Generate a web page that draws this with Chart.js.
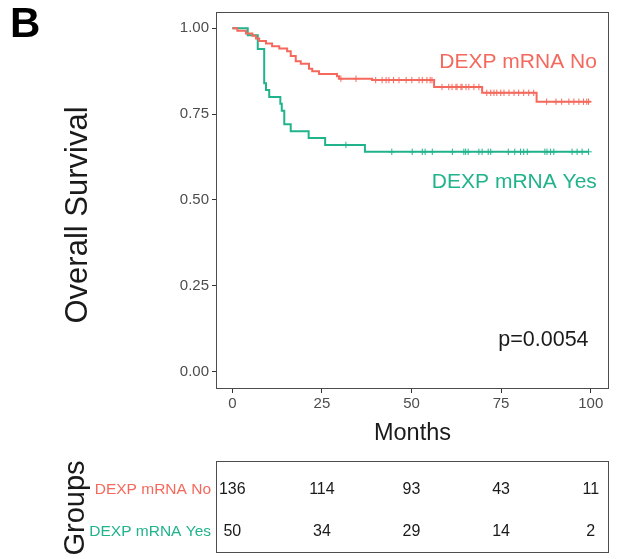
<!DOCTYPE html>
<html>
<head>
<meta charset="utf-8">
<script src="https://cdn.jsdelivr.net/npm/chart.js@4.4.1/dist/chart.umd.min.js"></script>
<style>
  html, body { margin: 0; padding: 0; background: #fff; }
  #wrap { position: relative; width: 620px; height: 559px; }
  #survChart { position: absolute; left: 0; top: 0; }
  #riskChart { position: absolute; left: 0; top: 445px; }
</style>
</head>
<body>
<div id="wrap">
  <canvas id="survChart" width="620" height="445"></canvas>
  <canvas id="riskChart" width="620" height="114"></canvas>
</div>
<script>
const FONT = "'Liberation Sans', Arial, Helvetica, sans-serif";

const groups = ['DEXP mRNA No', 'DEXP mRNA Yes'];
const groupColors = ['#F5695D', '#21B38C'];

// Kaplan-Meier steps: time of each drop and survival after it
const noTimes = [0, 1.4, 3.8, 5.6, 6.6, 7.5, 9.4, 11.1, 13.1, 15.3, 16.3, 17.7, 19.1, 21.4, 22.3, 24.2, 29.2, 29.8, 39.0, 56.3, 69.7, 84.9, 100];
const noSurv = [1.0, 0.993, 0.985, 0.978, 0.970, 0.963, 0.956, 0.948, 0.941, 0.933, 0.919, 0.904, 0.897, 0.882, 0.875, 0.867, 0.860, 0.853, 0.849, 0.829, 0.812, 0.786, 0.786];
const yesTimes = [0, 4.3, 7.1, 8.9, 9.4, 10.3, 13.4, 13.8, 14.5, 16.3, 21.3, 25.9, 37.0, 99.4];
const yesSurv = [1.0, 0.98, 0.94, 0.84, 0.82, 0.80, 0.78, 0.76, 0.72, 0.70, 0.68, 0.66, 0.64, 0.64];

// censored follow-up times
const noCensor = [30.3, 34.5, 40.0, 41.8, 42.9, 43.7, 45.0, 46.5, 48.5, 50.1, 52.1, 53.0, 54.3, 55.2, 55.7,
  58.5, 60.4, 61.3, 62.4, 62.7, 63.8, 64.1, 65.2, 66.0, 67.4, 68.8,
  71.0, 72.1, 73.0, 73.8, 74.9, 75.8, 77.2, 78.6, 79.9, 81.3, 82.7, 84.1,
  87.7, 90.3, 91.9, 93.9, 95.3, 96.7, 98.0, 98.9, 99.4];
const yesCensor = [31.7, 44.5, 50.2, 53.0, 53.8, 55.8, 61.4, 64.6, 65.1, 65.8, 68.8, 69.7, 71.4, 72.1,
  77.0, 78.8, 80.4, 81.3, 82.3, 87.2, 87.8, 88.8, 89.7, 94.8, 96.2, 97.6, 99.4];

const xTicks = [0, 25, 50, 75, 100];
const yTicks = [0, 0.25, 0.5, 0.75, 1];

// numbers at risk
const riskTimes = [0, 25, 50, 75, 100];
const riskNo = [136, 114, 93, 43, 11];
const riskYes = [50, 34, 29, 14, 2];

const pValue = 'p=0.0054';

// vertical placement of the two table rows (0..1 of the table height)
const rowPos = [0.685, 0.232];

const X_MIN = -4.55, X_MAX = 105.1;

function survAt(times, surv, t) {
  let s = surv[0];
  for (let i = 0; i < times.length; i++) {
    if (times[i] <= t) s = surv[i];
  }
  return s;
}
const curve = (times, surv) => times.map((t, i) => ({ x: t, y: surv[i] }));
const marks = (times, surv, cens) => cens.map(t => ({ x: t, y: survAt(times, surv, t) }));

function frame(ctx, a) {
  ctx.strokeStyle = '#4d4d4d';
  ctx.lineWidth = 1;
  ctx.strokeRect(a.left + 0.5, a.top + 0.5, a.width - 1, a.height - 1);
}

const survText = {
  id: 'survText',
  afterDraw(chart) {
    const { ctx, chartArea: a, scales: { x, y } } = chart;
    ctx.save();
    frame(ctx, a);

    ctx.textAlign = 'right';
    ctx.textBaseline = 'middle';
    ctx.font = '21px ' + FONT;
    ctx.fillStyle = groupColors[0];
    ctx.fillText(groups[0], x.getPixelForValue(101.7), y.getPixelForValue(0.90));
    ctx.fillStyle = groupColors[1];
    ctx.fillText(groups[1], x.getPixelForValue(101.7), y.getPixelForValue(0.551));
    ctx.fillStyle = '#1a1a1a';
    ctx.font = '21.5px ' + FONT;
    ctx.fillText(pValue, x.getPixelForValue(99.4), y.getPixelForValue(0.09));

    ctx.textAlign = 'left';
    ctx.textBaseline = 'alphabetic';
    ctx.fillStyle = '#000';
    ctx.font = 'bold 42px ' + FONT;
    ctx.fillText('B', 10, 37);

    ctx.translate(78, 215);
    ctx.rotate(-Math.PI / 2);
    ctx.textAlign = 'center';
    ctx.textBaseline = 'middle';
    ctx.fillStyle = '#1a1a1a';
    ctx.font = '31px ' + FONT;
    ctx.fillText('Overall Survival', 0, 0);
    ctx.restore();
  }
};

const tickFont = { family: FONT, size: 15 };

new Chart(document.getElementById('survChart'), {
  type: 'line',
  data: {
    datasets: [
      { type: 'scatter', data: marks(noTimes, noSurv, noCensor), pointStyle: 'cross', pointRadius: 3.2,
        borderColor: groupColors[0], borderWidth: 1, showLine: false },
      { type: 'scatter', data: marks(yesTimes, yesSurv, yesCensor), pointStyle: 'cross', pointRadius: 3.2,
        borderColor: groupColors[1], borderWidth: 1, showLine: false },
      { data: curve(noTimes, noSurv), borderColor: groupColors[0], borderWidth: 2, stepped: 'before',
        pointRadius: 0, fill: false },
      { data: curve(yesTimes, yesSurv), borderColor: groupColors[1], borderWidth: 2, stepped: 'before',
        pointRadius: 0, fill: false }
    ]
  },
  options: {
    responsive: false,
    animation: false,
    layout: { padding: { top: 12, right: 11, bottom: 0, left: 0 } },
    plugins: { legend: { display: false }, tooltip: { enabled: false } },
    scales: {
      x: {
        type: 'linear', min: X_MIN, max: X_MAX,
        afterBuildTicks: s => { s.ticks = xTicks.map(v => ({ value: v })); },
        afterFit: s => { s.height = 56; },
        grid: { drawOnChartArea: false, tickLength: 4, color: '#333' },
        border: { display: false },
        ticks: { padding: 2, font: tickFont, color: '#4d4d4d', maxRotation: 0 },
        title: { display: true, text: 'Months', color: '#1a1a1a', padding: { top: 0, bottom: 0 },
          font: { family: FONT, size: 23.5, lineHeight: 1 } }
      },
      y: {
        type: 'linear', min: -0.0513, max: 1.0475,
        afterBuildTicks: s => { s.ticks = yTicks.map(v => ({ value: v })); },
        afterFit: s => { s.width = 216; },
        grid: { drawOnChartArea: false, tickLength: 4, color: '#333' },
        border: { display: false },
        ticks: { padding: 3, font: tickFont, color: '#4d4d4d', callback: v => v.toFixed(2) }
      }
    }
  },
  plugins: [survText]
});

const riskText = {
  id: 'riskText',
  afterDraw(chart) {
    const { ctx, chartArea: a, scales: { x, y } } = chart;
    ctx.save();
    frame(ctx, a);

    ctx.textBaseline = 'middle';
    ctx.textAlign = 'right';
    ctx.font = '15.5px ' + FONT;
    groups.forEach((g, i) => {
      ctx.fillStyle = groupColors[i];
      ctx.fillText(g, a.left - 5, y.getPixelForValue(rowPos[i]));
    });

    ctx.font = '16px ' + FONT;
    ctx.fillStyle = '#1a1a1a';
    ctx.textAlign = 'center';
    [riskNo, riskYes].forEach((row, g) => {
      row.forEach((n, i) => {
        ctx.fillText(String(n), x.getPixelForValue(riskTimes[i]), y.getPixelForValue(rowPos[g]));
      });
    });

    ctx.translate(76, 63);
    ctx.rotate(-Math.PI / 2);
    ctx.font = '29px ' + FONT;
    ctx.fillText('Groups', 0, 0);
    ctx.restore();
  }
};

new Chart(document.getElementById('riskChart'), {
  type: 'scatter',
  data: { datasets: [] },
  options: {
    responsive: false,
    animation: false,
    layout: { padding: { top: 16, right: 11, bottom: 6, left: 216 } },
    plugins: { legend: { display: false }, tooltip: { enabled: false } },
    scales: {
      x: { type: 'linear', min: X_MIN, max: X_MAX, display: false },
      y: { type: 'linear', min: 0, max: 1, display: false }
    }
  },
  plugins: [riskText]
});
</script>
</body>
</html>
